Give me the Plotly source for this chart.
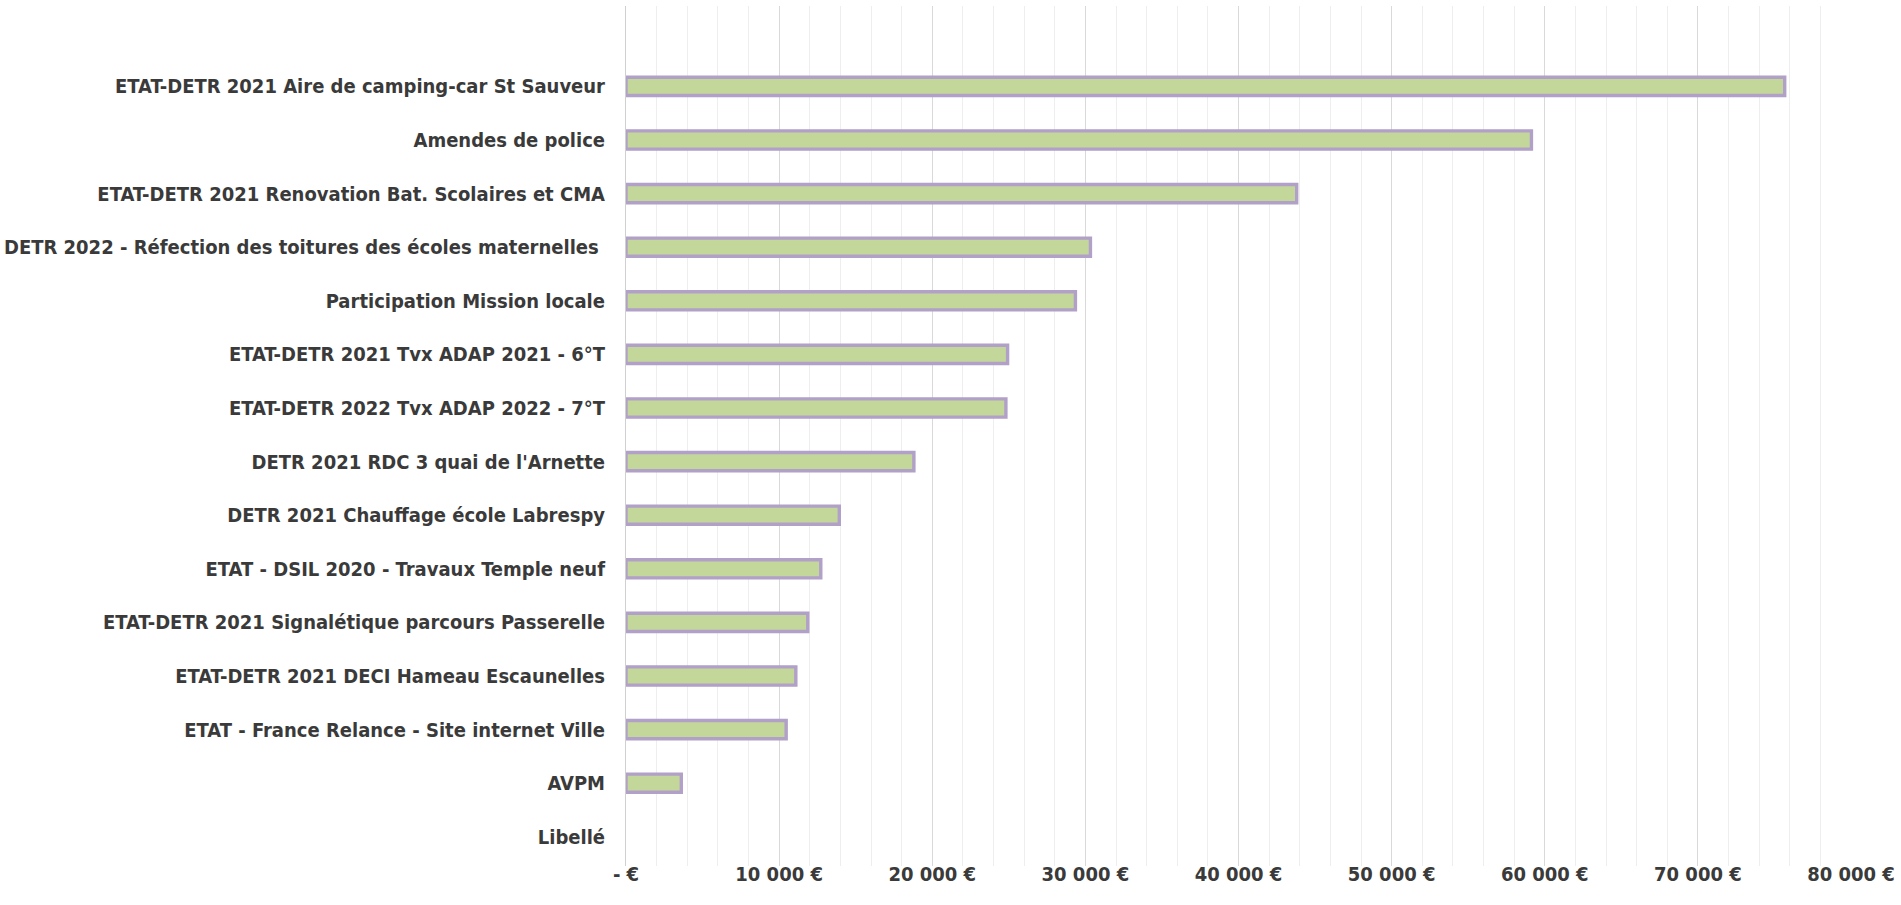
import plotly.graph_objects as go

# Data (top-to-bottom as shown in the chart)
categories = [
    "ETAT-DETR 2021 Aire de camping-car St Sauveur",
    "Amendes de police",
    "ETAT-DETR 2021 Renovation Bat. Scolaires et CMA",
    "DETR 2022 - Réfection des toitures des écoles maternelles ",
    "Participation Mission locale",
    "ETAT-DETR 2021 Tvx ADAP 2021 - 6°T",
    "ETAT-DETR 2022 Tvx ADAP 2022 - 7°T",
    "DETR 2021 RDC 3 quai de l'Arnette",
    "DETR 2021 Chauffage école Labrespy",
    "ETAT - DSIL 2020 - Travaux Temple neuf",
    "ETAT-DETR 2021 Signalétique parcours Passerelle",
    "ETAT-DETR 2021 DECI Hameau Escaunelles",
    "ETAT - France Relance - Site internet Ville",
    "AVPM",
    "Libellé",
]
values = [75670, 59130, 43800, 30330, 29350, 24920, 24810, 18800, 13930,
          12720, 11870, 11090, 10460, 3610, None]

tick_values = [0, 10000, 20000, 30000, 40000, 50000, 60000, 70000, 80000]
tick_labels = ["- €", "10 000 €", "20 000 €", "30 000 €", "40 000 €",
               "50 000 €", "60 000 €", "70 000 €", "80 000 €"]

cats_bt = categories[::-1]
vals_bt = values[::-1]

FONT = "DejaVu Sans Condensed, DejaVu Sans, sans-serif"
TXT = "#3a3a3a"

fig = go.Figure(go.Bar(
    x=vals_bt, y=cats_bt, orientation="h",
    marker=dict(color="#c4d79b", line=dict(color="#b1a0c7", width=3.4)),
    width=0.34,
))

fig.update_layout(
    width=1901, height=905,
    margin=dict(l=626, r=50, t=6, b=39),
    paper_bgcolor="white", plot_bgcolor="white",
    showlegend=False,
    font=dict(family=FONT, size=20, color=TXT, weight="bold"),
)
fig.update_xaxes(
    range=[0, 80000],
    tickvals=tick_values, ticktext=tick_labels,
    showgrid=True, gridcolor="#d9d9d9", gridwidth=1,
    minor=dict(dtick=2000, showgrid=True, gridcolor="#eeeeee", gridwidth=1),
    zeroline=False, showline=False,
    tickfont=dict(family=FONT, size=20, color=TXT, weight="bold"),
    ticks="", ticklabelstandoff=-6,
    automargin=False,
    fixedrange=True,
)
fig.update_yaxes(
    categoryorder="array", categoryarray=cats_bt,
    range=[-0.545, 15.5],
    showgrid=False, zeroline=False,
    showline=True, linecolor="#d0d0d0", linewidth=1,
    ticks="", ticklabelstandoff=16,
    tickfont=dict(family=FONT, size=20, color=TXT, weight="bold"),
    automargin=False,
    fixedrange=True,
)

fig.write_html(
    "out.html",
    config={"displayModeBar": False},
    post_script="document.body.style.margin='0';document.body.style.overflow='hidden';",
)
